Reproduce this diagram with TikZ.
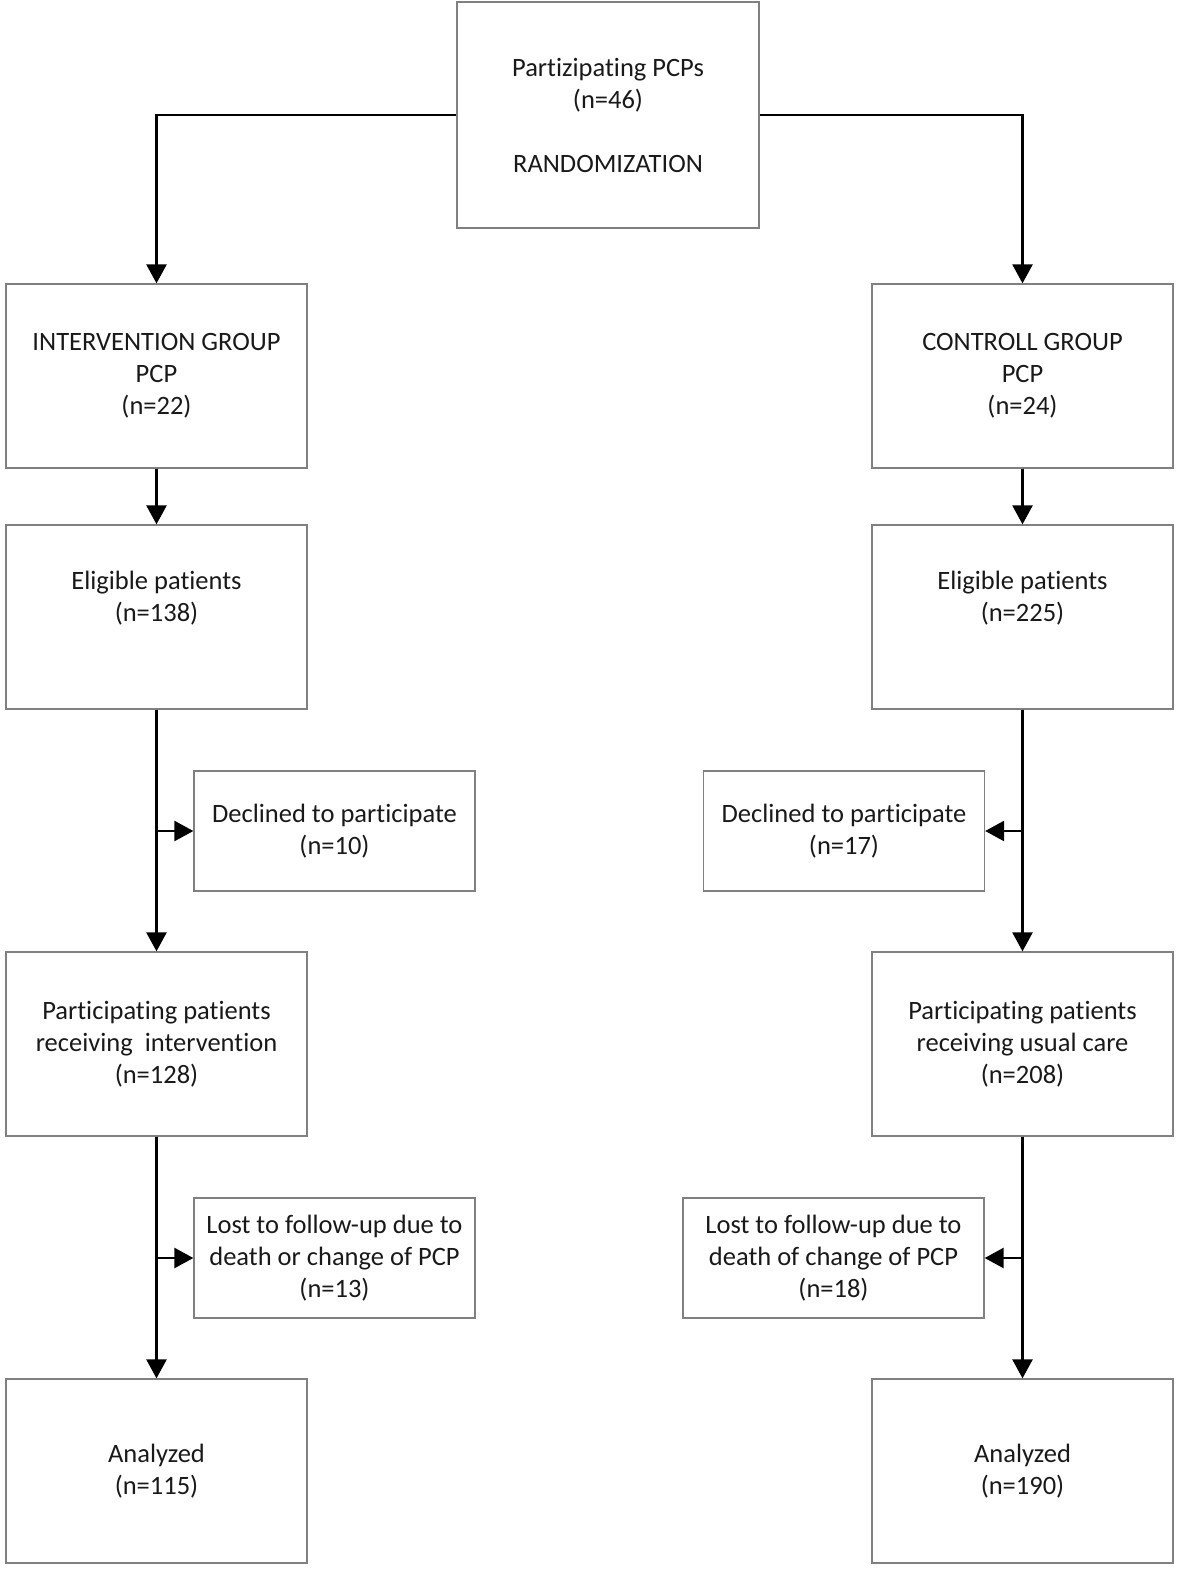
\documentclass[tikz,border=0pt]{standalone}
\usepackage{fontspec}
\setmainfont{Carlito}[Ligatures=NoCommon]
\usetikzlibrary{arrows.meta}
\definecolor{boxgray}{HTML}{808080}
\begin{document}
\begin{tikzpicture}[x=1pt,y=-1pt,
 box/.style={draw=boxgray,line width=1.3pt,rectangle,inner sep=0pt,align=center,
   font=\fontsize{26.5}{32}\selectfont,text=black!90},
 bigbox/.style={box,minimum width=301pt,minimum height=184pt},
 conn/.style={line width=2.5pt,-{Triangle[length=19pt,width=20pt]}},
 plainline/.style={line width=2.5pt}]
\useasboundingbox (0,0) rectangle (1181,1577);

\node[box,minimum width=302pt,minimum height=226pt] (top) at (608,115)
  {Partizipating PCPs\\(n=46)\\[32pt]RANDOMIZATION};

\node[bigbox] (ig) at (156.5,376) {INTERVENTION GROUP\\PCP\\(n=22)};
\node[bigbox] (cg) at (1022.5,376) {CONTROLL GROUP\\PCP\\(n=24)};

\node[bigbox] (el) at (156.5,617) {Eligible patients\\(n=138)\\\strut};
\node[bigbox] (er) at (1022.5,617) {Eligible patients\\(n=225)\\\strut};

\node[box,minimum width=281pt,minimum height=120pt] (dl) at (334.5,831) {Declined to participate\\(n=10)};
\node[box,minimum width=281pt,minimum height=120pt] (dr) at (844,831) {Declined to participate\\(n=17)};

\node[bigbox] (pl) at (156.5,1044) {Participating patients\\receiving\ \ intervention\\(n=128)};
\node[bigbox] (pr) at (1022.5,1044) {Participating patients\\receiving usual care\\(n=208)};

\node[box,minimum width=281pt,minimum height=120pt] (ll) at (334.5,1258) {Lost to follow-up due to\\death or change of PCP\\(n=13)};
\node[box,minimum width=301pt,minimum height=120pt] (lr) at (833.5,1258) {Lost to follow-up due to\\death of change of PCP\\(n=18)};

\node[bigbox] (al) at (156.5,1471) {Analyzed\\(n=115)};
\node[bigbox] (ar) at (1022.5,1471) {Analyzed\\(n=190)};

\draw[conn] (top.west) -| (ig.north);
\draw[conn] (top.east) -| (cg.north);
\draw[conn] (ig) -- (el);
\draw[conn] (cg) -- (er);
\draw[conn] (el) -- (pl);
\draw[conn] (er) -- (pr);
\draw[conn] (pl) -- (al);
\draw[conn] (pr) -- (ar);
\coordinate (jl1) at (el.south |- dl.west);
\coordinate (jr1) at (er.south |- dr.east);
\coordinate (jl2) at (pl.south |- ll.west);
\coordinate (jr2) at (pr.south |- lr.east);
\draw[conn] (jl1) -- (dl.west);
\draw[conn] (jr1) -- (dr.east);
\draw[conn] (jl2) -- (ll.west);
\draw[conn] (jr2) -- (lr.east);
\end{tikzpicture}
\end{document}
